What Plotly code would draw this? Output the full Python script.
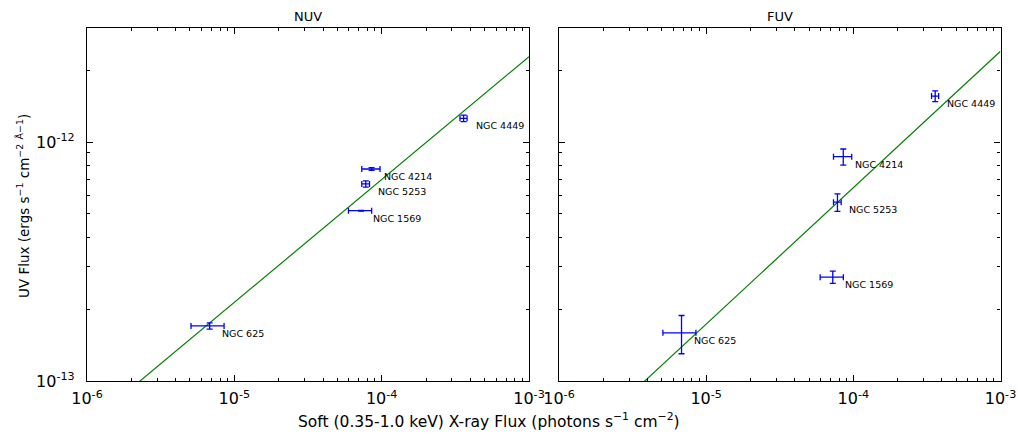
import numpy as np
import plotly.graph_objects as go

W, H = 1018, 436

galaxies = ["NGC 625", "NGC 1569", "NGC 5253", "NGC 4214", "NGC 4449"]

# Soft X-ray flux (photons s^-1 cm^-2)
xray = [6.8e-6, 7.25e-5, 7.8e-5, 8.54e-5, 3.6e-4]
xray_err = [1.72e-6, 1.3e-5, 0.47e-5, 1.21e-5, 0.2e-4]

# NUV flux
nuv = [1.70e-13, 5.16e-13, 6.68e-13, 7.71e-13, 1.256e-12]
nuv_err = [0.05e-13, 0.02e-13, 0.2e-13, 0.1e-13, 0.04e-12]

# FUV flux
fuv = [1.59e-13, 2.72e-13, 5.60e-13, 8.68e-13, 1.557e-12]
fuv_err = [0.29e-13, 0.16e-13, 0.47e-13, 0.67e-13, 0.08e-12]

# power-law fits: log y = slope * log x + intercept
nuv_fit = (0.514, -10.101)
fuv_fit = (0.571, -9.907)
fit_x = [1e-6, 1e-3]

x_ticks = [1e-6, 1e-5, 1e-4, 1e-3]
x_ticktext = ["10<sup>-6</sup>", "10<sup>-5</sup>", "10<sup>-4</sup>", "10<sup>-3</sup>"]
y_ticks = [1e-13, 1e-12]
y_ticktext = ["10<sup>-13</sup>", "10<sup>-12</sup>"]

BLUE = "rgb(0,0,255)"
GREEN = "#008000"
FONT = "DejaVu Sans"

fig = go.Figure()

for i, (yv, ye, fit) in enumerate([(nuv, nuv_err, nuv_fit), (fuv, fuv_err, fuv_fit)]):
    xa = "x" if i == 0 else "x2"
    ya = "y" if i == 0 else "y2"
    fy = [10 ** (fit[0] * np.log10(v) + fit[1]) for v in fit_x]
    fig.add_trace(go.Scatter(x=fit_x, y=fy, mode="lines", line=dict(color=GREEN, width=1.2),
                             xaxis=xa, yaxis=ya, showlegend=False, hoverinfo="skip"))
    fig.add_trace(go.Scatter(
        x=xray, y=yv, mode="markers", xaxis=xa, yaxis=ya, showlegend=False,
        marker=dict(color=BLUE, size=1),
        error_x=dict(type="data", array=xray_err, color=BLUE, thickness=1.3, width=3),
        error_y=dict(type="data", array=ye, color=BLUE, thickness=1.3, width=3),
    ))
    for g, xv, yy in zip(galaxies, xray, yv):
        fig.add_annotation(x=np.log10(xv), y=np.log10(yy), xref=xa, yref=ya, text=g,
                           showarrow=False, xanchor="left", yanchor="middle",
                           xshift=10, yshift=-7.5, font=dict(family=FONT, size=9.5, color="black"))

x_minor = [k * 10.0 ** e for e in range(-6, -3) for k in range(2, 10)]
y_minor = [k * 10.0 ** e for e in range(-13, -11) for k in range(2, 10) if k * 10.0 ** e <= 3e-12]

ax_common = dict(type="log", showline=True, linecolor="black", linewidth=1.2, mirror="allticks",
                 ticks="inside", ticklen=6, tickcolor="black", tickwidth=1, automargin=False,
                 showgrid=False, zeroline=False, tickfont=dict(family=FONT, size=16, color="black"),
                 minor=dict(ticks="inside", ticklen=3, tickcolor="black", tickwidth=1,
                            showgrid=False))

xdom1 = [87 / W, 529 / W]
xdom2 = [559 / W, 1000.5 / W]
ydom = [1 - 381 / H, 1 - 28 / H]

fig.update_layout(
    width=W, height=H, margin=dict(l=0, r=0, t=0, b=0, autoexpand=False),
    paper_bgcolor="white", plot_bgcolor="white",
    xaxis=dict(ax_common, domain=xdom1, range=[-6, -3], tickvals=x_ticks, ticktext=x_ticktext,
               anchor="y", ticklabelstandoff=3),
    xaxis2=dict(ax_common, domain=xdom2, range=[-6, -3], tickvals=x_ticks, ticktext=x_ticktext,
                anchor="y2", ticklabelstandoff=3),
    yaxis=dict(ax_common, domain=ydom, range=[-13, np.log10(3e-12)], tickvals=y_ticks,
               ticktext=y_ticktext, anchor="x", ticklabelstandoff=8),
    yaxis2=dict(ax_common, domain=ydom, range=[-13, np.log10(3e-12)], tickvals=y_ticks,
                ticktext=y_ticktext, anchor="x2", showticklabels=False, matches="y"),
)
fig.layout.xaxis.minor.tickvals = x_minor
fig.layout.xaxis2.minor.tickvals = x_minor
fig.layout.yaxis.minor.tickvals = y_minor
fig.layout.yaxis2.minor.tickvals = y_minor

for title, dom in [("NUV", xdom1), ("FUV", xdom2)]:
    fig.add_annotation(x=(dom[0] + dom[1]) / 2, y=1 - 16 / H, xref="paper", yref="paper",
                       text=title, showarrow=False, xanchor="center", yanchor="middle",
                       font=dict(family=FONT, size=13, color="black"))

fig.add_annotation(x=489 / W, y=1 - 420 / H, xref="paper", yref="paper",
                   text="Soft (0.35-1.0 keV) X-ray Flux (photons s<sup>−1</sup> cm<sup>−2</sup>)",
                   showarrow=False, xanchor="center", yanchor="middle",
                   font=dict(family=FONT, size=15.5, color="black"))
fig.add_annotation(x=23 / W, y=1 - 206 / H, xref="paper", yref="paper", textangle=-90,
                   text="UV Flux (ergs s<sup>−1</sup> cm<sup>−2</sup> <sup>Å</sup><sup>−1</sup>)",
                   showarrow=False, xanchor="center", yanchor="middle",
                   font=dict(family=FONT, size=13.5, color="black"))

fig.write_html("out.html", config={"displayModeBar": False},
               post_script="document.body.style.margin='0';document.body.style.overflow='hidden';")
